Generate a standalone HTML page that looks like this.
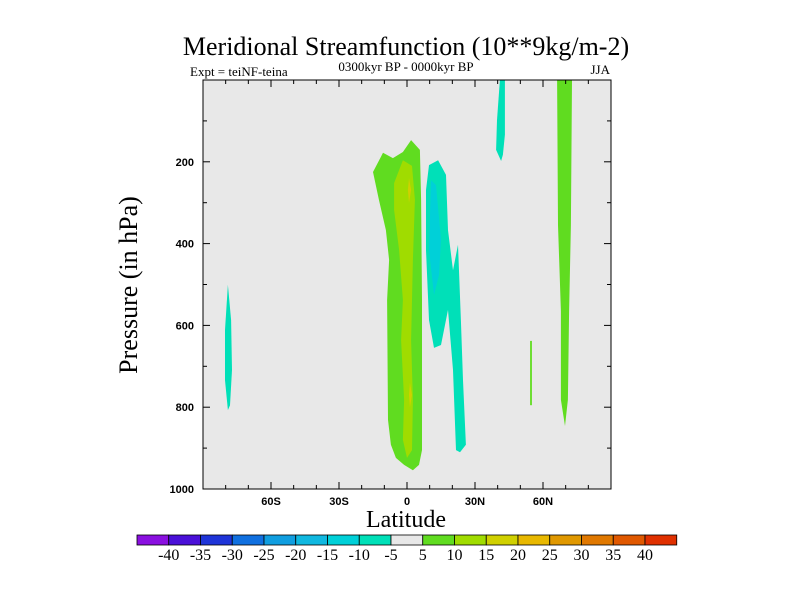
<!DOCTYPE html>
<html><head><meta charset="utf-8"><style>
html,body{margin:0;padding:0;background:#fff;}
svg text{font-family:"Liberation Serif",serif;}
</style></head><body>
<svg id="chart" width="800" height="600" viewBox="0 0 800 600">
<text x="406" y="55" text-anchor="middle" font-size="26">Meridional Streamfunction (10**9kg/m-2)</text>
<text x="190" y="76" font-size="13">Expt = teiNF-teina</text>
<text x="406" y="71" text-anchor="middle" font-size="13">0300kyr BP - 0000kyr BP</text>
<text x="610" y="74" text-anchor="end" font-size="13">JJA</text>
<rect x="203" y="80" width="408" height="409" fill="#e8e8e8"/>
<g id="fills"></g>
<rect x="203" y="80" width="408" height="409" fill="none" stroke="#000" stroke-width="1"/>
<g id="axes"></g>
<text x="406" y="527" text-anchor="middle" font-size="24">Latitude</text>
<text transform="translate(137,285) rotate(-90)" text-anchor="middle" font-size="26">Pressure (in hPa)</text>
<g id="cbar"></g>
</svg>
<script>
const cbLevels=[-40,-35,-30,-25,-20,-15,-10,-5,5,10,15,20,25,30,35,40];
const cbColors=["#8a10e0","#4a10d8","#1e34d8","#1070e0","#109ee0","#10b8e0","#00d0d8","#00e0b8","#e8e8e8","#60dc20","#a0dc00","#d0d000","#e8b800","#e09800","#e07800","#e05800","#e03000"];
const xTicks=[-60,-30,0,30,60];
const xTickLabels=["60S","30S","0","30N","60N"];
const yTicks=[200,400,600,800,1000];
// contour regions: [lat,pressure] vertices, with colour index
const greenMain=[[-15,225],[-10.6,178],[-6.2,191],[-1.8,176],[1.8,147],[5.7,171],[6.2,293],[6.6,538],[6.6,905],[5.3,941],[2.6,954],[-1.3,941],[-4.9,924],[-7.1,892],[-8.4,831],[-8.8,538],[-7.9,440],[-9.3,367],[-12.4,293]];
const yellowGreen=[[-5.7,252],[-1.8,196],[2.2,210],[3.5,293],[2.6,440],[1.8,636],[2.6,782],[2.2,905],[0,924],[-1.8,880],[-1.3,782],[-2.6,636],[-1.8,538],[-3.5,416],[-5.7,318]];
const yellowSpot1=[[0.9,240],[1.8,269],[0.9,300],[0.4,269]];
const yellowSpot2=[[1.3,740],[2.2,770],[1.3,800],[0.9,770]];
const cyanMain=[[9.7,208],[13.7,196],[17.2,232],[18.1,367],[20.3,465],[22.5,403],[23.8,587],[24.7,734],[26,892],[23.4,910],[21.6,905],[20.3,709],[18.1,562],[15,648],[11.9,655],[9.7,587],[8.4,416],[8.4,269]];
const blueCore=[[10.6,245],[12.8,257],[15,391],[14.1,477],[11.9,526],[9.7,416]];
const cyanLeft=[[-79,501],[-77.6,587],[-77.2,709],[-78.1,795],[-79,807],[-80.3,734],[-80.3,611]];
const cyanTop=[[41,0],[43.2,0],[43.2,134],[42.3,183],[41.5,198],[39.3,171],[39.7,98]];
const greenRight=[[66.2,0],[72.8,0],[72.3,355],[71.5,565],[71,782],[69.7,846],[67.9,782],[67.9,565],[66.6,355]];
const greenSmall=[[54.3,638],[55.1,638],[55.1,795],[54.3,795]];
const regions=[[greenMain,9,"positive-cell-main"],[yellowGreen,10,"positive-core"],[yellowSpot1,11,"positive-peak-upper"],[yellowSpot2,11,"positive-peak-lower"],[cyanMain,7,"negative-cell-main"],[blueCore,6,"negative-core"],[cyanLeft,7,"negative-cell-south"],[cyanTop,7,"negative-cell-upper"],[greenRight,9,"positive-cell-north"],[greenSmall,9,"positive-cell-small"]];

const NS="http://www.w3.org/2000/svg";
const X0=203,X1=611,Y0=80,Y1=489;
const xs=lat=>X0+(lat+90)/180*(X1-X0);
const ys=p=>Y0+p/1000*(Y1-Y0);
function mk(tag,attrs,parent){const e=document.createElementNS(NS,tag);for(const k in attrs)e.setAttribute(k,attrs[k]);parent.appendChild(e);return e;}

const fills=document.getElementById('fills');
regions.forEach(r=>{
  const pts=r[0].map(v=>xs(v[0]).toFixed(1)+","+ys(v[1]).toFixed(1)).join(" ");
  const el=mk('polygon',{points:pts,fill:cbColors[r[1]]},fills);
  
  
});

const axes=document.getElementById('axes');
for(let lat=-80;lat<=80;lat+=10){
  const major=lat%30===0;const L=major?7:4;const x=xs(lat);
  let t=mk('line',{x1:x,x2:x,y1:Y1,y2:Y1-L,stroke:"#000"},axes);
  
  
  t=mk('line',{x1:x,x2:x,y1:Y0,y2:Y0+L,stroke:"#000"},axes);
  
  
}
xTicks.forEach((v,i)=>{
  const t=mk('text',{x:xs(v),y:Y1+16,"text-anchor":"middle","font-size":"11","font-weight":"bold",style:"font-family:'Liberation Sans',sans-serif"},axes);
  t.textContent=xTickLabels[i];
  
  
});
for(let p=100;p<=900;p+=100){
  const major=p%200===0;const L=major?7:4;const y=ys(p);
  let t=mk('line',{x1:X0,x2:X0+L,y1:y,y2:y,stroke:"#000"},axes);
  
  
  t=mk('line',{x1:X1,x2:X1-L,y1:y,y2:y,stroke:"#000"},axes);
  
  
}
yTicks.forEach(v=>{
  const t=mk('text',{x:X0-9,y:ys(v)+4,"text-anchor":"end","font-size":"11","font-weight":"bold",style:"font-family:'Liberation Sans',sans-serif"},axes);
  t.textContent=String(v);
  
  
});

const cbar=document.getElementById('cbar');
const CX=137,CW=31.75,CY=535,CH=10;
cbColors.forEach((c,i)=>{
  const r=mk('rect',{x:CX+i*CW,y:CY,width:CW,height:CH,fill:c,stroke:"#000","stroke-width":"0.8"},cbar);
  
  
});
cbLevels.forEach((v,i)=>{
  const t=mk('text',{x:CX+(i+1)*CW,y:CY+25,"text-anchor":"middle","font-size":"16"},cbar);
  t.textContent=String(v);
  
  
});
</script>
</body></html>
